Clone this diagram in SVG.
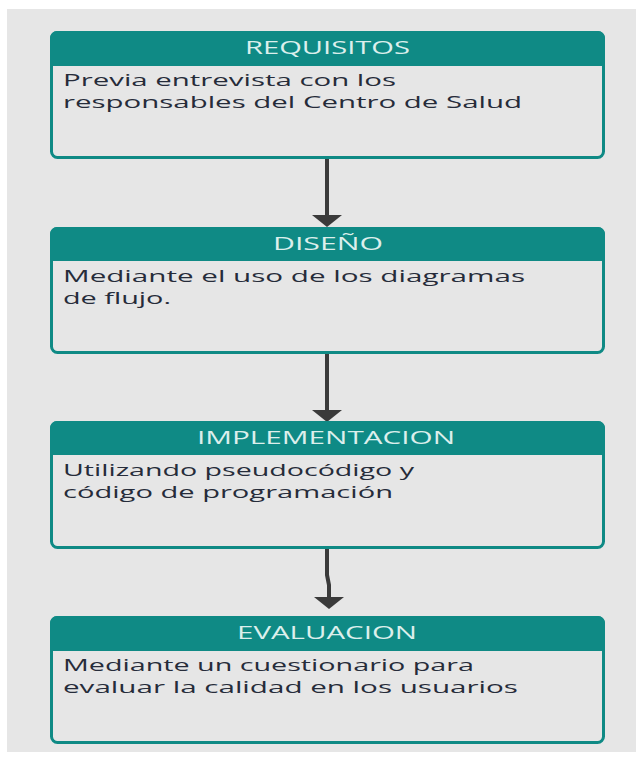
<svg xmlns="http://www.w3.org/2000/svg" width="636" height="757" viewBox="0 0 636 757">
<defs>
<style>
.bg{fill:#e6e6e6}
.box{fill:#e6e6e6;stroke:#0f8a85;stroke-width:3}
.hdr{fill:#0f8a85}
.ht{font-family:"Open Sans","DejaVu Sans",sans-serif;font-size:18px;fill:#dcefec}
.bt{font-family:"Open Sans","DejaVu Sans",sans-serif;font-size:17px;fill:#262c3a}
.con{stroke:#3a3a3a;stroke-width:4;fill:none}
.ah{fill:#3a3a3a}
</style>
</defs>
<rect class="bg" x="7" y="9" width="629" height="743"/>
<g id="connectors">
<line class="con" x1="327" y1="159" x2="327" y2="216"/>
<polygon class="ah" points="312,215 342,215 327,227"/>
<line class="con" x1="327" y1="354" x2="327" y2="411"/>
<polygon class="ah" points="312,410 342,410 327,422"/>
<path class="con" d="M327,549 L327,575 L329,585 L329,598"/>
<polygon class="ah" points="314,597 344,597 329,609"/>
</g>
<g id="requisitos">
<rect class="box" x="51.5" y="32.5" width="552" height="125" rx="6"/>
<path class="hdr" d="M50,66 V38 a7,7 0 0 1 7,-7 H598 a7,7 0 0 1 7,7 V66 Z"/>
<text class="ht" x="245" y="54" textLength="165" lengthAdjust="spacingAndGlyphs">REQUISITOS</text>
<text class="bt" x="63" y="86" textLength="333" lengthAdjust="spacingAndGlyphs">Previa entrevista con los</text>
<text class="bt" x="63" y="108" textLength="459" lengthAdjust="spacingAndGlyphs">responsables del Centro de Salud</text>
</g>
<g id="diseno">
<rect class="box" x="51.5" y="228.5" width="552" height="124" rx="6"/>
<path class="hdr" d="M50,261 V234 a7,7 0 0 1 7,-7 H598 a7,7 0 0 1 7,7 V261 Z"/>
<text class="ht" x="273" y="250" textLength="110" lengthAdjust="spacingAndGlyphs">DISEÑO</text>
<text class="bt" x="63" y="282" textLength="462" lengthAdjust="spacingAndGlyphs">Mediante el uso de los diagramas</text>
<text class="bt" x="63" y="304" textLength="108" lengthAdjust="spacingAndGlyphs">de flujo.</text>
</g>
<g id="implementacion">
<rect class="box" x="51.5" y="422.5" width="552" height="125" rx="6"/>
<path class="hdr" d="M50,455 V428 a7,7 0 0 1 7,-7 H598 a7,7 0 0 1 7,7 V455 Z"/>
<text class="ht" x="197" y="444" textLength="258" lengthAdjust="spacingAndGlyphs">IMPLEMENTACION</text>
<text class="bt" x="63" y="476" textLength="351" lengthAdjust="spacingAndGlyphs">Utilizando pseudocódigo y</text>
<text class="bt" x="63" y="498" textLength="330" lengthAdjust="spacingAndGlyphs">código de programación</text>
</g>
<g id="evaluacion">
<rect class="box" x="51.5" y="617.5" width="552" height="125" rx="6"/>
<path class="hdr" d="M50,651 V623 a7,7 0 0 1 7,-7 H598 a7,7 0 0 1 7,7 V651 Z"/>
<text class="ht" x="237" y="639" textLength="180" lengthAdjust="spacingAndGlyphs">EVALUACION</text>
<text class="bt" x="63" y="671" textLength="411" lengthAdjust="spacingAndGlyphs">Mediante un cuestionario para</text>
<text class="bt" x="63" y="693" textLength="455" lengthAdjust="spacingAndGlyphs">evaluar la calidad en los usuarios</text>
</g>
</svg>
